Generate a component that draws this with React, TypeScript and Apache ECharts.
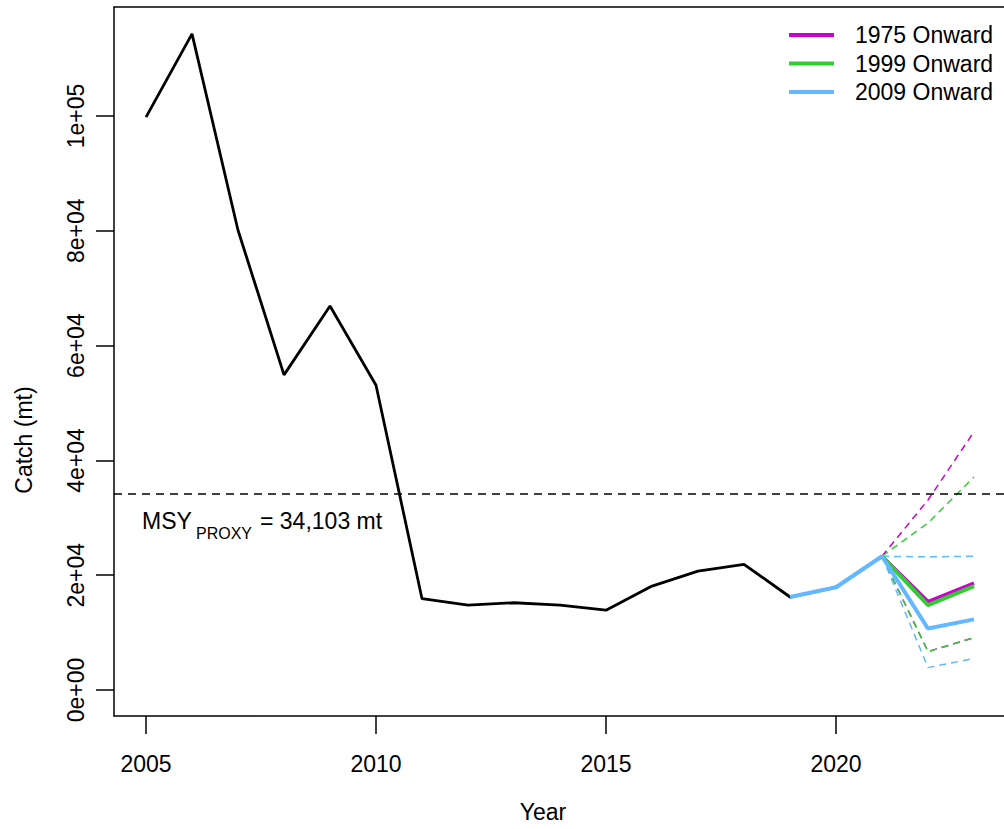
import React, { useEffect, useRef } from "react";
import * as echarts from "echarts";

const years = [2005, 2006, 2007, 2008, 2009, 2010, 2011, 2012, 2013, 2014, 2015, 2016, 2017, 2018, 2019, 2020, 2021];
const catchHistory = [99800, 114300, 80100, 54900, 66900, 53100, 15900, 14800, 15200, 14800, 13900, 18100, 20700, 21900, 16200, 17900, 23300];

const projYears = [2021, 2022, 2023];
const proj1975 = [23300, 15400, 18600];
const proj1999 = [23300, 14800, 18100];
const proj2009Years = [2019, 2020, 2021, 2022, 2023];
const proj2009 = [16200, 17900, 23300, 10700, 12300];

const upper1975 = [23300, 33100, 45000];
const lower1975 = [23300, 6700, 9100];
const upper1999 = [23300, 29100, 37100];
const lower1999 = [23300, 6700, 9100];
const upper2009 = [23300, 23200, 23300];
const lower2009 = [23300, 3900, 5500];

const msyProxy = 34103;
const xTicks = [2005, 2010, 2015, 2020];
const yTicks = [0, 20000, 40000, 60000, 80000, 100000];
const yTickLabels = ["0e+00", "2e+04", "4e+04", "6e+04", "8e+04", "1e+05"];

const legendNames = ["1975 Onward", "1999 Onward", "2009 Onward"];
const colMagenta = "#CD00CD";
const colGreen = "#32CD32";
const colBlue = "#63B8FF";

const FONT = "'Liberation Sans', Arial, Helvetica, sans-serif";

const pairs = (xs: number[], ys: number[]) => xs.map((x, i) => [x, ys[i]]);

export default function App() {
  const ref = useRef<HTMLDivElement>(null);
  useEffect(() => {
    document.body.style.margin = "0";
    if (!ref.current) return;
    const chart = echarts.init(ref.current, null, { renderer: "svg" });
    const dashed = (name: string, ys: number[], color: string) => ({
      name,
      type: "line",
      data: pairs(projYears, ys),
      symbol: "none",
      silent: true,
      lineStyle: { color, width: 1.5, type: [7, 5] },
    });
    chart.setOption({
      animation: false,
      backgroundColor: "#ffffff",
      textStyle: { fontFamily: FONT },
      grid: { left: 114, top: 7, right: 0, bottom: 113, containLabel: false },
      xAxis: [
        {
          type: "value",
          min: 2004.304,
          max: 2023.652,
          position: "bottom",
          axisLine: { show: true, onZero: false, lineStyle: { color: "#000", width: 1.5 } },
          axisTick: { show: true, length: 18, customValues: xTicks, lineStyle: { color: "#000", width: 1.5 } },
          axisLabel: {
            customValues: xTicks,
            margin: 36,
            fontSize: 23,
            color: "#000",
            fontFamily: FONT,
            formatter: (v: number) => String(v),
          },
          splitLine: { show: false },
        },
        {
          type: "value",
          min: 2004.304,
          max: 2023.652,
          position: "top",
          axisLine: { show: true, onZero: false, lineStyle: { color: "#000", width: 1.5 } },
          axisTick: { show: false },
          axisLabel: { show: false },
          splitLine: { show: false },
        },
      ],
      yAxis: {
        type: "value",
        min: -4530,
        max: 118990,
        position: "left",
        axisLine: { show: true, onZero: false, lineStyle: { color: "#000", width: 1.5 } },
        axisTick: { show: true, length: 18, customValues: yTicks, lineStyle: { color: "#000", width: 1.5 } },
        axisLabel: {
          customValues: yTicks,
          rotate: 90,
          margin: 27,
          fontSize: 23,
          color: "#000",
          fontFamily: FONT,
          formatter: (v: number) => {
            const i = yTicks.indexOf(v);
            return i >= 0 ? yTickLabels[i] : "";
          },
        },
        splitLine: { show: false },
      },
      legend: {
        data: legendNames.map((n) => ({ name: n, icon: "rect" })),
        orient: "vertical",
        left: 789,
        top: 23,
        padding: 0,
        itemWidth: 45,
        itemHeight: 4,
        itemGap: 4.5,
        textStyle: { fontSize: 23, color: "#000", fontFamily: FONT, lineHeight: 24, padding: [0, 0, 0, 16] },
        selectedMode: false,
      },
      series: [
        {
          name: "History",
          type: "line",
          data: pairs(years, catchHistory),
          symbol: "none",
          lineStyle: { color: "#000", width: 2.8 },
          markLine: {
            silent: true,
            symbol: ["none", "none"],
            label: { show: false },
            lineStyle: { color: "#000", width: 1.5, type: [8, 6] },
            data: [{ yAxis: msyProxy }],
          },
        },
        dashed("Upper 1975", upper1975, colMagenta),
        dashed("Lower 1975", lower1975, colMagenta),
        dashed("Upper 1999", upper1999, colGreen),
        dashed("Lower 1999", lower1999, colGreen),
        dashed("Upper 2009", upper2009, colBlue),
        dashed("Lower 2009", lower2009, colBlue),
        {
          name: legendNames[0],
          type: "line",
          data: pairs(projYears, proj1975),
          symbol: "none",
          color: colMagenta,
          itemStyle: { color: colMagenta },
          lineStyle: { color: colMagenta, width: 3.5 },
        },
        {
          name: legendNames[1],
          type: "line",
          data: pairs(projYears, proj1999),
          symbol: "none",
          color: colGreen,
          itemStyle: { color: colGreen },
          lineStyle: { color: colGreen, width: 4 },
        },
        {
          name: legendNames[2],
          type: "line",
          data: pairs(proj2009Years, proj2009),
          symbol: "none",
          color: colBlue,
          itemStyle: { color: colBlue },
          lineStyle: { color: colBlue, width: 4 },
        },
      ],
      graphic: [
        {
          type: "text",
          x: 543,
          y: 812,
          style: { text: "Year", fontSize: 23, fontFamily: FONT, fill: "#000", align: "center", verticalAlign: "middle", textAlign: "center", textVerticalAlign: "middle" },
        },
        {
          type: "text",
          x: 24,
          y: 440,
          rotation: Math.PI / 2,
          style: { text: "Catch (mt)", fontSize: 23, fontFamily: FONT, fill: "#000", align: "center", verticalAlign: "middle", textAlign: "center", textVerticalAlign: "middle" },
        },
        {
          type: "text",
          x: 142,
          y: 521,
          style: { text: "MSY", fontSize: 23, fontFamily: FONT, fill: "#000", align: "left", verticalAlign: "middle", textAlign: "left", textVerticalAlign: "middle" },
        },
        {
          type: "text",
          x: 196,
          y: 533,
          style: { text: "PROXY", fontSize: 16, fontFamily: FONT, fill: "#000", align: "left", verticalAlign: "middle", textAlign: "left", textVerticalAlign: "middle" },
        },
        {
          type: "text",
          x: 260,
          y: 521,
          style: { text: "= 34,103 mt", fontSize: 23, fontFamily: FONT, fill: "#000", align: "left", verticalAlign: "middle", textAlign: "left", textVerticalAlign: "middle" },
        },
      ],
    });
    return () => chart.dispose();
  }, []);
  return <div ref={ref} style={{ width: 1004, height: 829, overflow: "hidden" }} />;
}
